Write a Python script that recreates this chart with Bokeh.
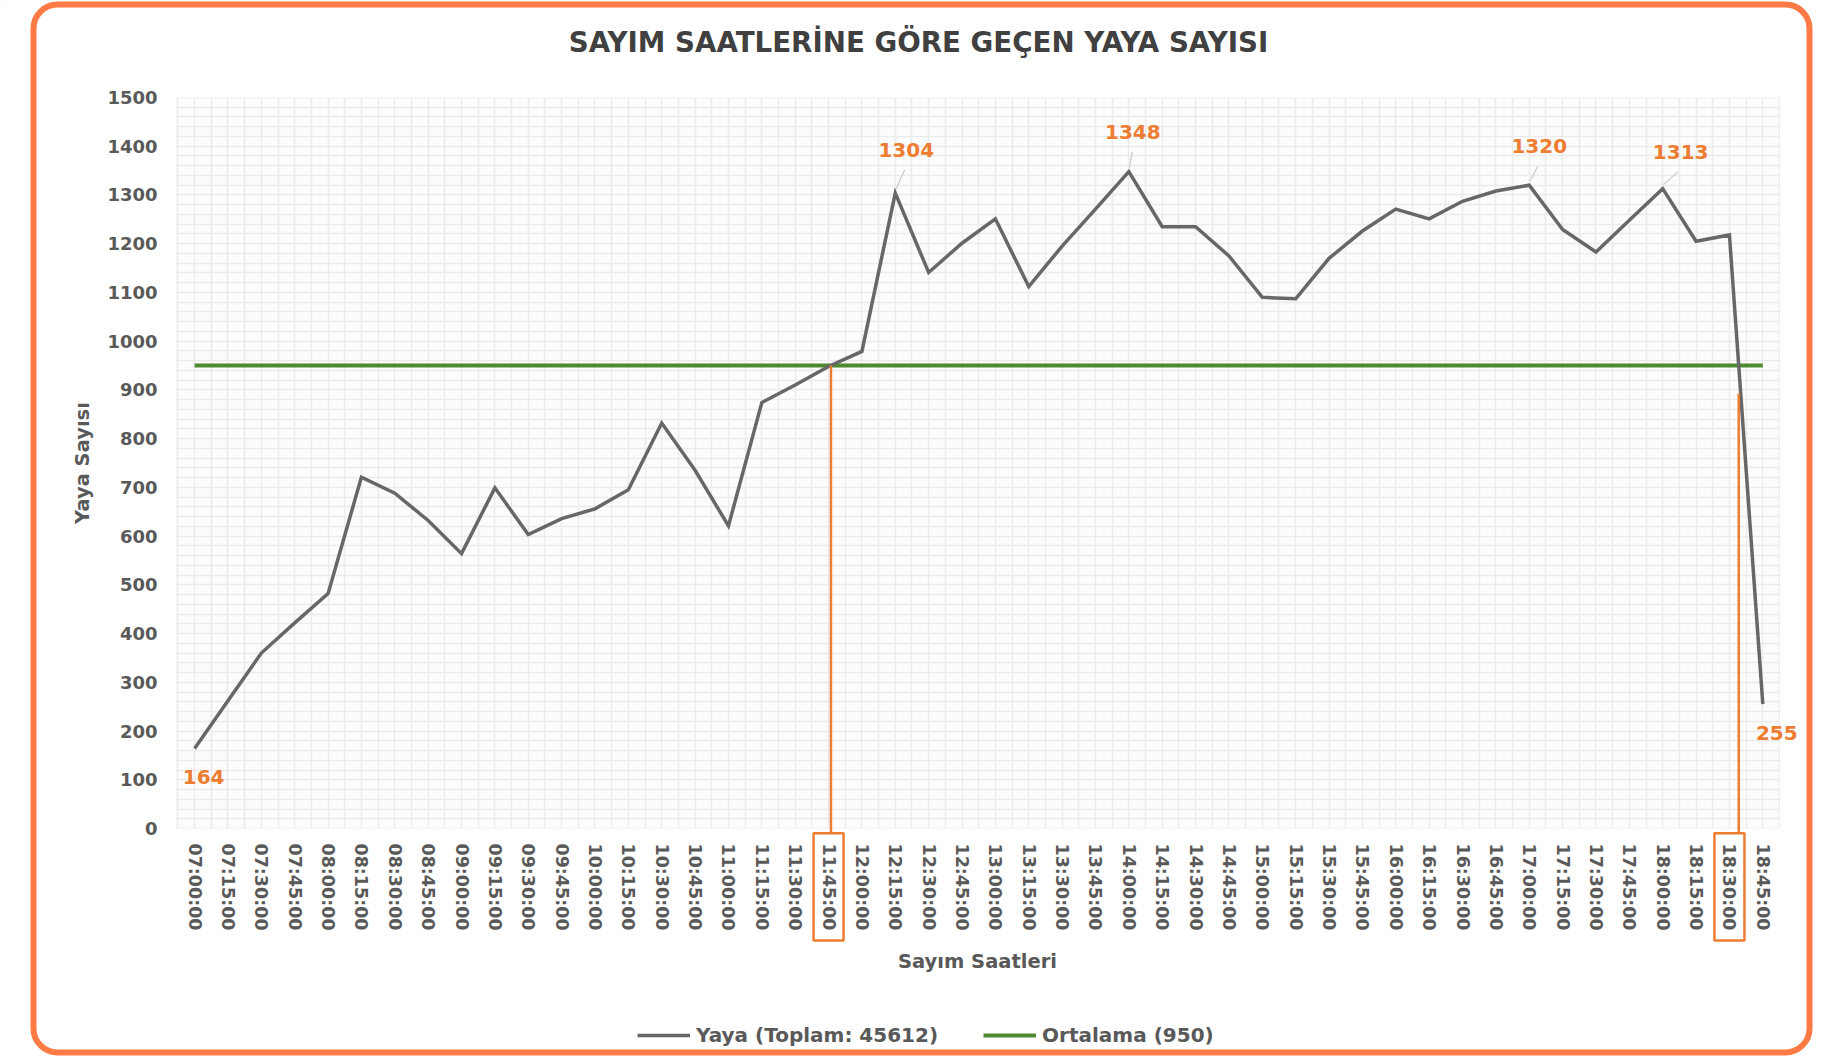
import numpy as np
from bokeh.plotting import figure
from bokeh.models import (Range1d, FixedTicker, Label, BoxAnnotation, Legend, LegendItem)
from bokeh.embed import file_html
from bokeh.resources import INLINE

# ---------------- data ----------------
times = ["07:00:00", "07:15:00", "07:30:00", "07:45:00", "08:00:00", "08:15:00", "08:30:00", "08:45:00",
         "09:00:00", "09:15:00", "09:30:00", "09:45:00", "10:00:00", "10:15:00", "10:30:00", "10:45:00",
         "11:00:00", "11:15:00", "11:30:00", "11:45:00", "12:00:00", "12:15:00", "12:30:00", "12:45:00",
         "13:00:00", "13:15:00", "13:30:00", "13:45:00", "14:00:00", "14:15:00", "14:30:00", "14:45:00",
         "15:00:00", "15:15:00", "15:30:00", "15:45:00", "16:00:00", "16:15:00", "16:30:00", "16:45:00",
         "17:00:00", "17:15:00", "17:30:00", "17:45:00", "18:00:00", "18:15:00", "18:30:00", "18:45:00"]
yaya = [164, 262, 360, 422, 482, 721, 688, 632,
        564, 699, 603, 636, 656, 695, 832, 735,
        621, 874, 910, 948, 979, 1304, 1141, 1201,
        1251, 1112, 1195, 1271, 1348, 1235, 1235, 1175,
        1090, 1087, 1170, 1226, 1271, 1251, 1287, 1308,
        1320, 1229, 1183, 1248, 1313, 1205, 1218, 255]
labelled = ["07:00:00", "12:15:00", "14:00:00", "17:00:00", "18:00:00", "18:45:00"]
highlighted = ["11:45:00", "18:30:00"]
y_ticks = [0, 100, 200, 300, 400, 500, 600, 700, 800, 900, 1000, 1100, 1200, 1300, 1400, 1500]

title_text = "SAYIM SAATLERİNE GÖRE GEÇEN YAYA SAYISI"
x_title = "Sayım Saatleri"
y_title = "Yaya Sayısı"

toplam = sum(yaya)
ortalama = toplam / len(yaya)

# ---------------- styles / layout ----------------
GREY = "#676767"
GREEN = "#4E8A2E"
ORANGE = "#ED7D31"
FRAME_ORANGE = "#FF7A45"
TXT = "#595959"
FONT = "DejaVu Sans"

W, H = 1833, 1056
PX_X0, DX = 194.1, 33.366        # pixel of first category, pixels per category
PY0, DY = 828.0, 0.48733         # pixel of value 0, pixels per unit
GRID_L, GRID_R = -0.57, len(times) - 1 + 0.51
x_start, x_end = (0 - PX_X0) / DX, (W - PX_X0) / DX
y_start, y_end = (PY0 - H) / DY, PY0 / DY

x = list(range(len(times)))

p = figure(width=W, height=H, output_backend="svg", toolbar_location=None,
           x_range=Range1d(x_start, x_end), y_range=Range1d(y_start, y_end),
           min_border=0)
p.outline_line_color = None
p.background_fill_color = "#fcfcfc"
p.border_fill_color = "white"

# grid (area limited by white covers)
p.xgrid.ticker = FixedTicker(ticks=list(np.arange(-0.5, len(times), 0.5)))
p.ygrid.ticker = FixedTicker(ticks=list(range(y_ticks[0], y_ticks[-1] + 1, 20)))
for g in (p.xgrid, p.ygrid):
    g.grid_line_color = "#ebebeb"
    g.grid_line_width = 1.5
for kw in (dict(right=GRID_L), dict(left=GRID_R), dict(top=y_ticks[0]), dict(bottom=y_ticks[-1])):
    p.add_layout(BoxAnnotation(fill_color="white", fill_alpha=1, line_alpha=0, level="underlay", **kw))

# axes at fixed positions
p.xaxis.fixed_location = y_ticks[0]
p.yaxis.fixed_location = GRID_L
p.xaxis.bounds = (GRID_L, GRID_R)
p.yaxis.bounds = (y_ticks[0], y_ticks[-1])
p.xaxis.ticker = FixedTicker(ticks=x)
p.xaxis.major_label_overrides = {i: t for i, t in enumerate(times)}
p.xaxis.major_label_orientation = "vertical"
p.yaxis.ticker = FixedTicker(ticks=y_ticks)
for ax in (p.xaxis, p.yaxis):
    ax.axis_line_color = None
    ax.major_tick_line_color = None
    ax.minor_tick_line_color = None
    ax.major_tick_out = 0
    ax.major_tick_in = 0
    ax.major_label_text_font = FONT
    ax.major_label_text_font_style = "bold"
    ax.major_label_text_font_size = "18px"
    ax.major_label_text_color = TXT
    ax.axis_label_text_font = FONT
    ax.axis_label_text_font_style = "bold"
    ax.axis_label_text_font_size = "19.5px"
    ax.axis_label_text_color = TXT
p.xaxis.major_label_text_font_size = "17.5px"
p.xaxis.major_label_standoff = 15
p.yaxis.major_label_standoff = 18
p.xaxis.axis_label = x_title
p.yaxis.axis_label = y_title
p.xaxis.axis_label_standoff = 16
p.yaxis.axis_label_standoff = 10

# series
r_mean = p.line([x[0], x[-1]], [ortalama, ortalama], line_color=GREEN, line_width=4)
r_yaya = p.line(x, yaya, line_color=GREY, line_width=3.5, line_join="miter")

# value labels with leader lines
offsets = {"07:00:00": (9, -28, False), "12:15:00": (11, 43, True), "14:00:00": (4, 40, True),
           "17:00:00": (10, 39, True), "18:00:00": (18, 37, True), "18:45:00": (14, -29, False)}
lx0, ly0, lx1, ly1 = [], [], [], []
for t in labelled:
    i = times.index(t)
    dx, dy, lead = offsets[t]
    p.add_layout(Label(x=i, y=yaya[i], x_offset=dx, y_offset=dy, text=str(yaya[i]),
                       text_align="center", text_baseline="middle", text_font=FONT,
                       text_font_style="bold", text_font_size="20px", text_color=ORANGE))
    if lead:
        lx0.append(i + 0.02)
        ly0.append(yaya[i] + 4 / DY)
        lx1.append(i + (dx * 0.85) / DX)
        ly1.append(yaya[i] + (dy - 20) / DY)
p.segment(lx0, ly0, lx1, ly1, line_color="#c8c8c8", line_width=1.2)

# orange markers at the mean crossings + boxes round their tick labels
def crossing(i):
    a, b = yaya[i], yaya[i + 1]
    return i + (ortalama - a) / (b - a)

box_top = -10
box_bottom = -230
vx, vy0, vy1 = [], [], []
for t in highlighted:
    i = times.index(t)
    xc = crossing(i)
    vx.append(xc)
    vy0.append(ortalama if yaya[i] < ortalama else ortalama - 28 / DY)
    vy1.append(box_top)
    p.add_layout(BoxAnnotation(left=i - 0.45, right=i + 0.45, top=box_top, bottom=box_bottom,
                               fill_alpha=0, line_color=ORANGE, line_alpha=1, line_width=2.5))
p.segment(vx, vy0, vx, vy1, line_color=ORANGE, line_width=2.5)

# title
p.add_layout(Label(x=918, y=H - 42, x_units="screen", y_units="screen",
                   text=title_text, text_align="center", text_baseline="middle", text_font=FONT,
                   text_font_style="bold", text_font_size="27.7px", text_color="#404040"))

# legend
legend = Legend(items=[LegendItem(label=f"Yaya (Toplam: {toplam})", renderers=[r_yaya]),
                       LegendItem(label=f"Ortalama ({round(ortalama)})", renderers=[r_mean])],
                orientation="horizontal", location=(637, 9), padding=0, margin=0,
                border_line_color=None, background_fill_alpha=0, glyph_width=53, glyph_height=20,
                label_height=20, label_standoff=6, spacing=45,
                label_text_font=FONT, label_text_font_style="bold", label_text_font_size="20px",
                label_text_color=TXT, label_text_baseline="middle")
p.add_layout(legend, "center")

# outer rounded orange frame
p.add_layout(BoxAnnotation(left=33, right=1809, top=4, bottom=H - 4,
                           left_units="canvas", right_units="canvas", top_units="canvas",
                           bottom_units="canvas", border_radius=24, fill_alpha=0,
                           line_color=FRAME_ORANGE, line_alpha=1, line_width=6))

open("out.html", "w").write(file_html(p, INLINE))
